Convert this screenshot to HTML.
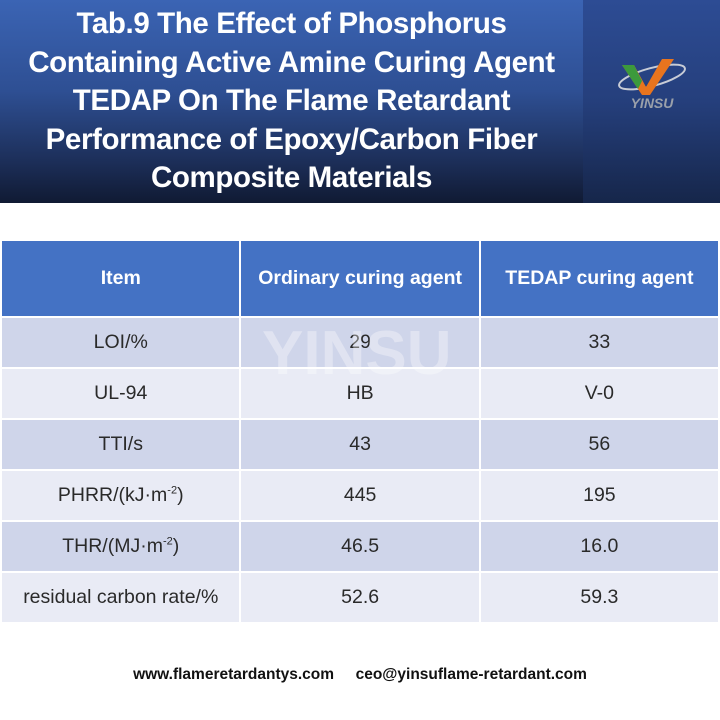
<!DOCTYPE html>
<html><head><meta charset="utf-8"><style>
body{margin:0;width:720px;height:720px;background:#fff;position:relative;overflow:hidden;font-family:"Liberation Sans","DejaVu Sans",sans-serif}
#hl{position:absolute;left:0;top:0;width:583px;height:203px;background:linear-gradient(180deg,#3b64b4 0%,#2e4f93 45%,#1c2e58 80%,#101a33 100%)}
#hr{position:absolute;left:583px;top:0;width:137px;height:203px;background:linear-gradient(180deg,#2d4c94 0%,#253f7c 50%,#16264a 100%)}
#title{position:absolute;left:0;top:5px;width:583px;text-align:center;color:#fff;font-weight:bold;font-size:29.5px;line-height:38.5px;letter-spacing:-0.4px}
table{position:absolute;left:0;top:239px;border-collapse:collapse;width:720px}
td{border:2px solid #fff;text-align:center;font-size:19.5px;color:#2a2a2a;padding:0}
tr.h td{background:#4472c4;color:#fff;font-weight:bold;height:75px}
tr.o td{background:#cfd5ea;height:49px}
tr.e td{background:#e9ebf5;height:49px}
#foot{position:absolute;top:666px;left:0;width:720px;text-align:center;font-size:15.5px;color:#111;font-weight:bold}
sup{font-size:11px}
</style></head><body>
<div id="hl"></div><div id="hr"></div>
<div id="title">Tab.9 The Effect of Phosphorus<br>Containing Active Amine Curing Agent<br>TEDAP On The Flame Retardant<br>Performance of Epoxy/Carbon Fiber<br>Composite Materials</div>
<svg style="position:absolute;left:612px;top:55px" width="80" height="58">
<ellipse cx="40" cy="22" rx="34" ry="9" fill="none" stroke="#c8ccd6" stroke-width="2" transform="rotate(-15 40 22)"/>
<path d="M10 10 L22 10 L34 32 L50 4 L62 4 L38 40 L30 40 Z" fill="#e8741e"/>
<path d="M10 10 L22 10 L30 26 L26 34 Z" fill="#3c9a3c"/>
<text x="40" y="53" text-anchor="middle" font-size="14" font-style="italic" font-weight="bold" fill="#9aa0aa" font-family="Liberation Sans">YINSU</text>
</svg>
<table>
<colgroup><col style="width:240px"><col style="width:240px"><col style="width:240px"></colgroup>
<tr class="h"><td>Item</td><td>Ordinary curing agent</td><td>TEDAP curing agent</td></tr>
<tr class="o"><td>LOI/%</td><td>29</td><td>33</td></tr>
<tr class="e"><td>UL-94</td><td>HB</td><td>V-0</td></tr>
<tr class="o"><td>TTI/s</td><td>43</td><td>56</td></tr>
<tr class="e"><td>PHRR/(kJ·m<sup>-2</sup>)</td><td>445</td><td>195</td></tr>
<tr class="o"><td>THR/(MJ·m<sup>-2</sup>)</td><td>46.5</td><td>16.0</td></tr>
<tr class="e"><td>residual carbon rate/%</td><td>52.6</td><td>59.3</td></tr>
</table>
<div style="position:absolute;left:262px;top:318px;font-size:62px;font-weight:bold;color:rgba(255,255,255,0.35)">YINSU</div>
<div id="foot">www.flameretardantys.com&nbsp;&nbsp;&nbsp;&nbsp;&nbsp;ceo@yinsuflame-retardant.com</div>
</body></html>
